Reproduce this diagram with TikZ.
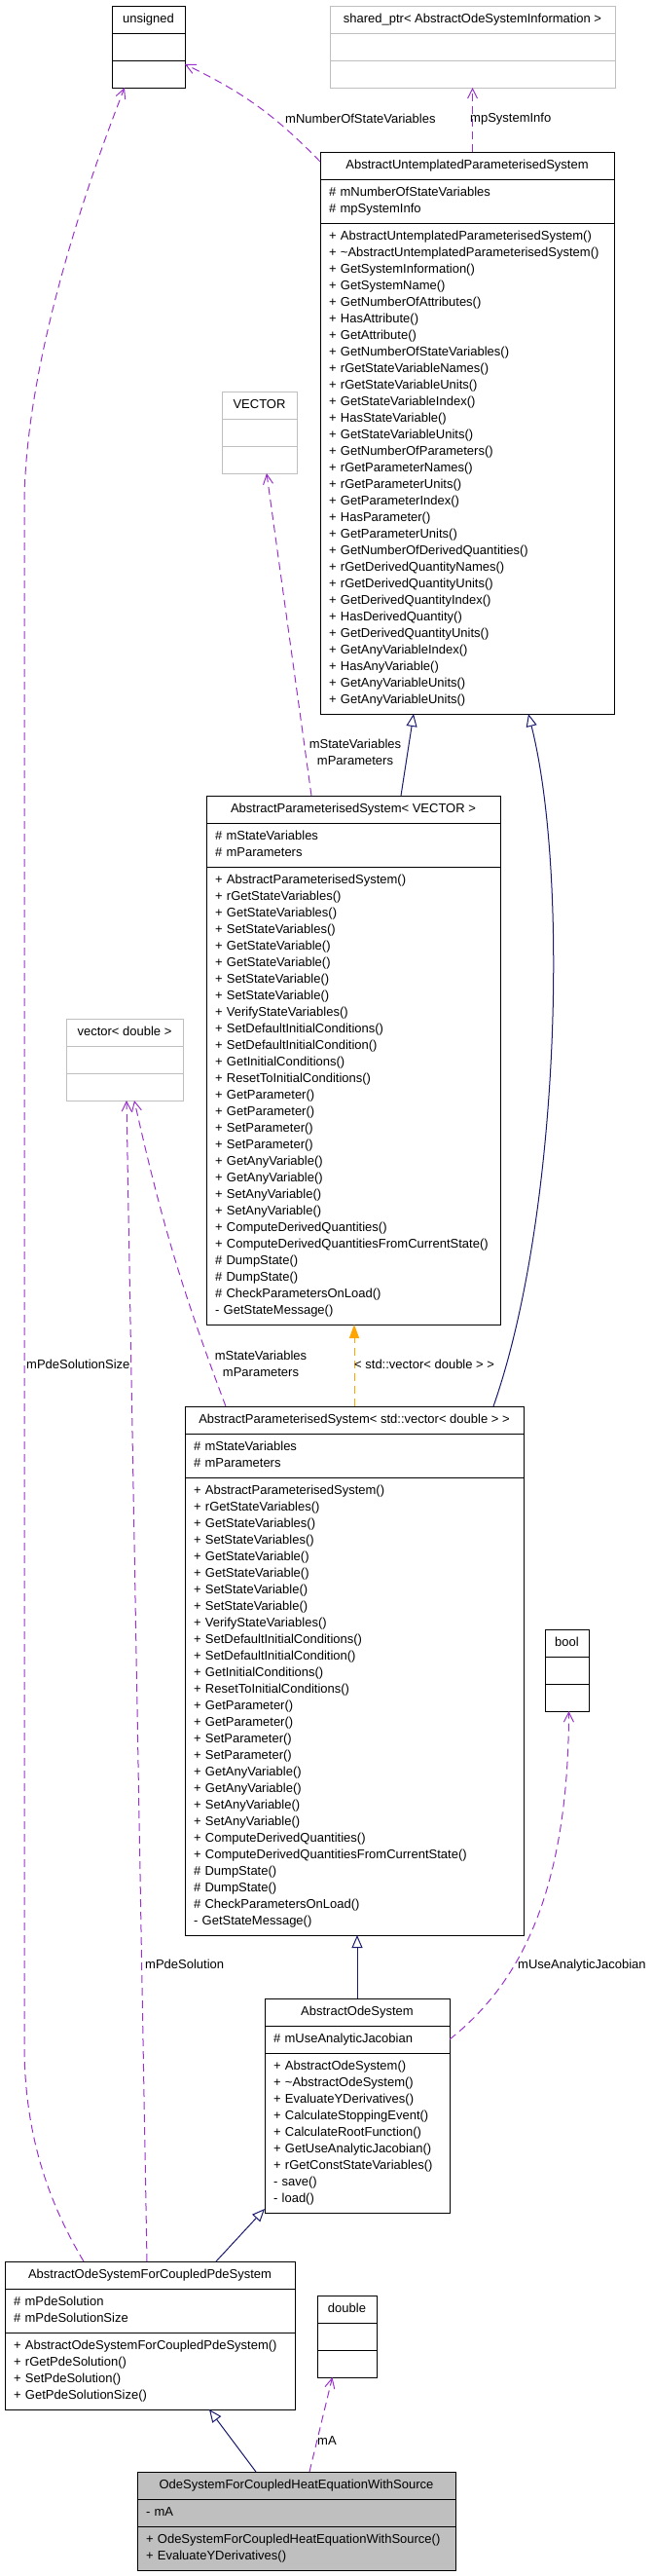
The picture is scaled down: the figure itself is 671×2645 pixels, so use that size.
\documentclass[tikz,border=0pt]{standalone}
\usepackage{fontspec}
\setmainfont{Liberation Sans}
\usetikzlibrary{positioning, arrows.meta}
\definecolor{memberline}{HTML}{9A32CD}
\definecolor{inheritline}{HTML}{191970}
\definecolor{templline}{HTML}{FFA500}
\definecolor{ghostline}{HTML}{BFBFBF}
\definecolor{mainfill}{HTML}{BFBFBF}

\begin{document}
\begin{tikzpicture}[x=1pt, y=-1pt,
    font=\fontsize{13pt}{17pt}\selectfont,
    box/.style={draw=black, line width=1pt, outer sep=0pt, inner xsep=9pt, inner ysep=5.5pt},
    classhead/.style={box, anchor=north west, minimum width=#1, execute at begin node=\strut},
    classpart/.style={box, text width=#1, align=left, execute at begin node={\hyphenpenalty=10000\strut}, execute at end node=\strut},
    ghost/.style={draw=ghostline},
    member/.style={draw=memberline, line width=1pt, dash pattern=on 8pt off 5pt, -{Straight Barb[length=10pt, width=10pt]}},
    inherit/.style={draw=inheritline, line width=1pt, -{Triangle[open, length=13pt, width=11pt]}},
    templ/.style={draw=templline, line width=1pt, dash pattern=on 8pt off 5pt, -{Triangle[length=14pt, width=10pt]}},
    lbl/.style={inner sep=0pt}]
        \useasboundingbox (0,0) rectangle (671,2645);
        % member types
        \node[classhead=75pt] (Unsigned) at (115,6) {unsigned};
        \node[classpart=57pt, below=0pt of Unsigned] (Unsigned Attr) {};
        \node[classpart=57pt, below=0pt of Unsigned Attr] (Unsigned Ops) {};
        \node[classhead=293pt, ghost] (Info Ptr) at (339,6) {shared\_ptr< AbstractOdeSystemInformation >};
        \node[classpart=275pt, ghost, below=0pt of Info Ptr] (Info Ptr Attr) {};
        \node[classpart=275pt, ghost, below=0pt of Info Ptr Attr] (Info Ptr Ops) {};
        \node[classhead=77pt, ghost] (VECTOR) at (228,402) {VECTOR};
        \node[classpart=59pt, ghost, below=0pt of VECTOR] (VECTOR Attr) {};
        \node[classpart=59pt, ghost, below=0pt of VECTOR Attr] (VECTOR Ops) {};
        \node[classhead=120pt, ghost] (Vector Double) at (68,1046) {vector< double >};
        \node[classpart=102pt, ghost, below=0pt of Vector Double] (Vector Double Attr) {};
        \node[classpart=102pt, ghost, below=0pt of Vector Double Attr] (Vector Double Ops) {};
        \node[classhead=45pt] (Bool) at (560,1673) {bool};
        \node[classpart=27pt, below=0pt of Bool] (Bool Attr) {};
        \node[classpart=27pt, below=0pt of Bool Attr] (Bool Ops) {};
        \node[classhead=61pt] (Double) at (326,2357) {double};
        \node[classpart=43pt, below=0pt of Double] (Double Attr) {};
        \node[classpart=43pt, below=0pt of Double Attr] (Double Ops) {};
        % classes
        \node[classhead=302pt] (Untemplated) at (329,156) {AbstractUntemplatedParameterisedSystem};
        \node[classpart=284pt, below=0pt of Untemplated] (Untemplated Attr) {\#~mNumberOfStateVariables\\\#~mpSystemInfo};
        \node[classpart=284pt, below=0pt of Untemplated Attr] (Untemplated Ops) {+~AbstractUntemplatedParameterisedSystem()\\+~\textasciitilde AbstractUntemplatedParameterisedSystem()\\+~GetSystemInformation()\\+~GetSystemName()\\+~GetNumberOfAttributes()\\+~HasAttribute()\\+~GetAttribute()\\+~GetNumberOfStateVariables()\\+~rGetStateVariableNames()\\+~rGetStateVariableUnits()\\+~GetStateVariableIndex()\\+~HasStateVariable()\\+~GetStateVariableUnits()\\+~GetNumberOfParameters()\\+~rGetParameterNames()\\+~rGetParameterUnits()\\+~GetParameterIndex()\\+~HasParameter()\\+~GetParameterUnits()\\+~GetNumberOfDerivedQuantities()\\+~rGetDerivedQuantityNames()\\+~rGetDerivedQuantityUnits()\\+~GetDerivedQuantityIndex()\\+~HasDerivedQuantity()\\+~GetDerivedQuantityUnits()\\+~GetAnyVariableIndex()\\+~HasAnyVariable()\\+~GetAnyVariableUnits()\\+~GetAnyVariableUnits()};
        \node[classhead=302pt] (Parameterised VECTOR) at (212,817) {AbstractParameterisedSystem< VECTOR >};
        \node[classpart=284pt, below=0pt of Parameterised VECTOR] (Parameterised VECTOR Attr) {\#~mStateVariables\\\#~mParameters};
        \node[classpart=284pt, below=0pt of Parameterised VECTOR Attr] (Parameterised VECTOR Ops) {+~AbstractParameterisedSystem()\\+~rGetStateVariables()\\+~GetStateVariables()\\+~SetStateVariables()\\+~GetStateVariable()\\+~GetStateVariable()\\+~SetStateVariable()\\+~SetStateVariable()\\+~VerifyStateVariables()\\+~SetDefaultInitialConditions()\\+~SetDefaultInitialCondition()\\+~GetInitialConditions()\\+~ResetToInitialConditions()\\+~GetParameter()\\+~GetParameter()\\+~SetParameter()\\+~SetParameter()\\+~GetAnyVariable()\\+~GetAnyVariable()\\+~SetAnyVariable()\\+~SetAnyVariable()\\+~ComputeDerivedQuantities()\\+~ComputeDerivedQuantitiesFromCurrentState()\\\#~DumpState()\\\#~DumpState()\\\#~CheckParametersOnLoad()\\-~GetStateMessage()};
        \node[classhead=348pt] (Parameterised Vector Double) at (190,1444) {AbstractParameterisedSystem< std::vector< double > >};
        \node[classpart=330pt, below=0pt of Parameterised Vector Double] (Parameterised Vector Double Attr) {\#~mStateVariables\\\#~mParameters};
        \node[classpart=330pt, below=0pt of Parameterised Vector Double Attr] (Parameterised Vector Double Ops) {+~AbstractParameterisedSystem()\\+~rGetStateVariables()\\+~GetStateVariables()\\+~SetStateVariables()\\+~GetStateVariable()\\+~GetStateVariable()\\+~SetStateVariable()\\+~SetStateVariable()\\+~VerifyStateVariables()\\+~SetDefaultInitialConditions()\\+~SetDefaultInitialCondition()\\+~GetInitialConditions()\\+~ResetToInitialConditions()\\+~GetParameter()\\+~GetParameter()\\+~SetParameter()\\+~SetParameter()\\+~GetAnyVariable()\\+~GetAnyVariable()\\+~SetAnyVariable()\\+~SetAnyVariable()\\+~ComputeDerivedQuantities()\\+~ComputeDerivedQuantitiesFromCurrentState()\\\#~DumpState()\\\#~DumpState()\\\#~CheckParametersOnLoad()\\-~GetStateMessage()};
        \node[classhead=190pt] (Ode System) at (272,2052) {AbstractOdeSystem};
        \node[classpart=172pt, below=0pt of Ode System] (Ode System Attr) {\#~mUseAnalyticJacobian};
        \node[classpart=172pt, below=0pt of Ode System Attr] (Ode System Ops) {+~AbstractOdeSystem()\\+~\textasciitilde AbstractOdeSystem()\\+~EvaluateYDerivatives()\\+~CalculateStoppingEvent()\\+~CalculateRootFunction()\\+~GetUseAnalyticJacobian()\\+~rGetConstStateVariables()\\-~save()\\-~load()};
        \node[classhead=298pt] (Coupled Ode System) at (5,2322) {AbstractOdeSystemForCoupledPdeSystem};
        \node[classpart=280pt, below=0pt of Coupled Ode System] (Coupled Ode System Attr) {\#~mPdeSolution\\\#~mPdeSolutionSize};
        \node[classpart=280pt, below=0pt of Coupled Ode System Attr] (Coupled Ode System Ops) {+~AbstractOdeSystemForCoupledPdeSystem()\\+~rGetPdeSolution()\\+~SetPdeSolution()\\+~GetPdeSolutionSize()};
        \node[classhead=327pt, fill=mainfill] (Heat Ode System) at (141,2538) {OdeSystemForCoupledHeatEquationWithSource};
        \node[classpart=309pt, fill=mainfill, below=0pt of Heat Ode System] (Heat Ode System Attr) {-~mA};
        \node[classpart=309pt, fill=mainfill, below=0pt of Heat Ode System Attr] (Heat Ode System Ops) {+~OdeSystemForCoupledHeatEquationWithSource()\\+~EvaluateYDerivatives()};
        % inheritance
        \draw[inherit] ([xshift=49pt]Parameterised VECTOR.north) -- ([xshift=-55pt]Untemplated Ops.south);
        \draw[inherit] ([xshift=143pt]Parameterised Vector Double.north) .. controls (575,1250) and (585,900) .. ([xshift=63pt]Untemplated Ops.south);
        \draw[templ] (Parameterised Vector Double.north) -- (Parameterised Vector Double.north |- Parameterised VECTOR Ops.south);
        \draw[inherit] (Ode System.north) -- (Ode System.north |- Parameterised Vector Double Ops.south);
        \draw[inherit] ([xshift=68pt]Coupled Ode System.north) -- ([yshift=4pt]Ode System Ops.south west);
        \draw[inherit] ([xshift=-41.5pt]Heat Ode System.north) -- ([xshift=61pt]Coupled Ode System Ops.south);
        % members
        \draw[member] ([yshift=-10pt]Untemplated.north west) to[bend right=10] ([yshift=-4pt]Unsigned Ops.north east);
        \draw[member] (Untemplated.north -| Info Ptr Ops.south) -- (Info Ptr Ops.south);
        \draw[member] ([xshift=-43pt]Parameterised VECTOR.north) -- ([xshift=7.5pt]VECTOR Ops.south);
        \draw[member] ([xshift=-132pt]Parameterised Vector Double.north) to[bend left=4] ([xshift=10pt]Vector Double Ops.south);
        \draw[member] ([xshift=-3pt]Coupled Ode System.north) -- ([xshift=2pt]Vector Double Ops.south);
        \draw[member] ([xshift=-68pt]Coupled Ode System.north) .. controls (55,2270) and (25,2200) .. (25,2100) -- (25,520) .. controls (25,380) and (85,200) .. ([xshift=-24.5pt]Unsigned Ops.south);
        \draw[member] (Ode System Attr.east) .. controls (530,2040) and (584,1950) .. ([xshift=2pt]Bool Ops.south);
        \draw[member] ([xshift=13.5pt]Heat Ode System.north) -- ([xshift=-15pt]Double Ops.south);
        % labels
        \node[lbl, anchor=west] (Count Label) at (293,122) {mNumberOfStateVariables};
        \node[lbl, anchor=west] (Info Label) at (483,122) {mpSystemInfo};
        \node[lbl, align=center] (VECTOR Label) at (365,772) {mStateVariables\\mParameters};
        \node[lbl, align=center] (Vector Double Label) at (268,1400) {mStateVariables\\mParameters};
        \node[lbl, anchor=west] (Template Label) at (364,1401) {< std::vector< double > >};
        \node[lbl, anchor=west] (Size Label) at (27,1401) {mPdeSolutionSize};
        \node[lbl, anchor=west] (Solution Label) at (149,2017) {mPdeSolution};
        \node[lbl, anchor=west] (Jacobian Label) at (532,2018) {mUseAnalyticJacobian};
        \node[lbl, anchor=west] (A Label) at (326,2506) {mA};
    \end{tikzpicture}
\end{document}
